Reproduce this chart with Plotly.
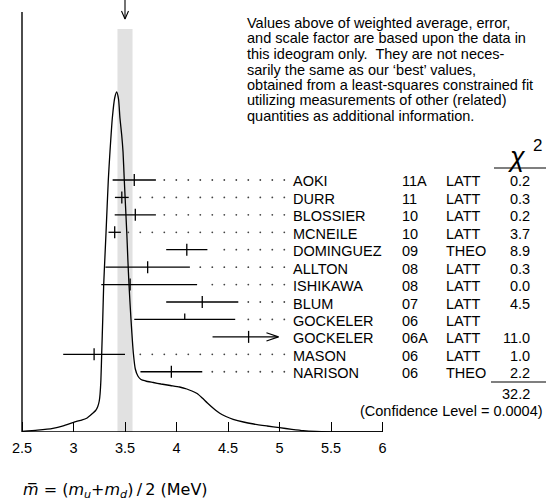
import numpy as np
import plotly.graph_objects as go

# ---------------- data ----------------
authors = ["AOKI", "DURR", "BLOSSIER", "MCNEILE", "DOMINGUEZ", "ALLTON",
           "ISHIKAWA", "BLUM", "GOCKELER", "GOCKELER", "MASON", "NARISON"]
years = ["11A", "11", "10", "10", "09", "08", "08", "07", "06", "06A", "06", "06"]
methods = ["LATT", "LATT", "LATT", "LATT", "THEO", "LATT",
           "LATT", "LATT", "LATT", "LATT", "LATT", "THEO"]
values = [3.59, 3.469, 3.60, 3.40, 4.10, 3.72, 3.55, 4.25, 4.08, 4.70, 3.20, 3.95]
err_lo = [0.21, 0.067, 0.20, 0.06, 0.20, 0.41, 0.28, 0.35, 0.49, 0.35, 0.30, 0.30]
err_hi = [0.21, 0.067, 0.20, 0.06, 0.20, 0.41, 0.65, 0.35, 0.49, 0.29, 0.30, 0.30]
arrow_right = [False, False, False, False, False, False,
               False, False, False, True, False, False]
chi2 = ["0.2", "0.3", "0.2", "3.7", "8.9", "0.3", "0.0", "4.5", "", "11.0", "1.0", "2.2"]
chi2_total = "32.2"
conf_level = "0.0004"
avg_value = 3.50
avg_err = 0.073

# ideogram curve (height in pixel-like units)
ideo_x = [2.50, 2.65, 2.80, 2.90, 3.00, 3.07, 3.128, 3.186, 3.215, 3.235, 3.25, 3.258,
          3.266, 3.274, 3.284, 3.293, 3.305, 3.316, 3.338, 3.354, 3.377, 3.40, 3.419,
          3.437, 3.451, 3.468, 3.481, 3.493, 3.517, 3.528, 3.539, 3.558, 3.581, 3.600,
          3.625, 3.655, 3.70, 3.775, 3.85, 3.94, 4.03, 4.10, 4.15, 4.20, 4.25, 4.30,
          4.36, 4.42, 4.48, 4.55, 4.65, 4.75, 4.88, 5.00, 5.12, 5.23, 5.35, 5.49,
          5.70, 6.00]
ideo_y = [0.5, 1.8, 3.7, 6.2, 9.7, 11.7, 13.7, 18.7, 21.5, 25.3, 31, 38,
          52, 79, 113, 147, 175, 200, 252, 280, 314, 334, 340,
          333, 314, 297, 280, 252, 200, 172, 147, 113, 79, 63,
          56, 52.5, 51, 49.5, 48, 46.5, 45, 43, 41, 38.5, 34, 29,
          23.5, 18.7, 15.5, 12.7, 10, 8, 6, 4.3, 2.7, 1.4, 0.6, 0.2,
          0.05, 0.0]

x_ticks = [2.5, 3, 3.5, 4, 4.5, 5, 5.5, 6]
x_tick_labels = ["2.5", "3", "3.5", "4", "4.5", "5", "5.5", "6"]

note_lines = [
    "Values above of weighted average, error,",
    "and scale factor are based upon the data in",
    "this ideogram only.  They are not neces-",
    "sarily the same as our \u2018best\u2019 values,",
    "obtained from a least-squares constrained fit",
    "utilizing measurements of other (related)",
    "quantities as additional information.",
]

# ---------------- geometry (layout) ----------------
W, H = 547, 504
AX_Y = 432           # pixel row of the x axis
X0_PX = 22           # pixel column of x = 2.5
PX_PER_UNIT = 103.0  # pixels per MeV
XMIN = x_ticks[0] - X0_PX / PX_PER_UNIT
XMAX = XMIN + W / PX_PER_UNIT


def h(py):           # pixel row -> y data value
    return AX_Y - py


def xv(px):          # pixel column -> x data value
    return XMIN + px / PX_PER_UNIT


def xp(px):          # pixel column -> paper fraction
    return px / W


def yp(py):          # pixel row -> paper fraction (plot area = rows 0..AX_Y)
    return (AX_Y - py) / AX_Y


FONT = "Liberation Sans, Arial, Helvetica, sans-serif"
FS = 14.5
row_top_px = 180.0
row_step = 17.43
rows_h = [h(row_top_px + i * row_step) for i in range(len(authors))]

fig = go.Figure()

# shaded band for the weighted average
fig.add_shape(type="rect", x0=avg_value - avg_err, x1=avg_value + avg_err,
              y0=0, y1=h(29), fillcolor="#e1e1e1", line=dict(width=0),
              layer="below")

# axes lines
fig.add_shape(type="line", x0=x_ticks[0], x1=x_ticks[-1], y0=0, y1=0,
              line=dict(color="black", width=1.4))
fig.add_shape(type="line", x0=x_ticks[0], x1=x_ticks[0], y0=0, y1=h(12),
              line=dict(color="black", width=1.4))

# ideogram curve
fig.add_trace(go.Scatter(x=ideo_x, y=ideo_y, mode="lines",
                         line=dict(color="black", width=1.3, shape="spline",
                                   smoothing=0.6),
                         hoverinfo="skip"))

# arrow at top pointing to average
dx = 3.5 / PX_PER_UNIT
fig.add_trace(go.Scatter(
    x=[avg_value, avg_value, None, avg_value - dx, avg_value, avg_value + dx],
    y=[h(0), h(19), None, h(11), h(19), h(11)],
    mode="lines", line=dict(color="black", width=1.1), hoverinfo="skip"))

# error bars
bx, by, tx, ty = [], [], [], []
ax_, ay_ = [], []
for v, lo, hi, yy, used, arr in zip(values, err_lo, err_hi, rows_h, chi2, arrow_right):
    bx += [v - lo, v + hi, None]
    by += [yy, yy, None]
    if used:
        tx += [v, v, None]
        ty += [yy - 6, yy + 6, None]
    else:
        tx += [v, v, None]
        ty += [yy, yy + 6, None]
    if arr:
        e = v + hi
        ax_ += [e - 12 / PX_PER_UNIT, e, e - 12 / PX_PER_UNIT, None]
        ay_ += [yy + 4.2, yy, yy - 4.2, None]
fig.add_trace(go.Scatter(x=bx, y=by, mode="lines",
                         line=dict(color="black", width=1.3), hoverinfo="skip"))
fig.add_trace(go.Scatter(x=tx, y=ty, mode="lines",
                         line=dict(color="black", width=1.3), hoverinfo="skip"))
fig.add_trace(go.Scatter(x=ax_, y=ay_, mode="lines",
                         line=dict(color="black", width=1.1), hoverinfo="skip"))

# dotted leaders
grid_px = 8.3 + 12 * np.arange(0, 24)
dxs, dys = [], []
for v, hi, yy in zip(values, err_hi, rows_h):
    end_px = X0_PX + (v + hi - x_ticks[0]) * PX_PER_UNIT
    for gp in grid_px:
        if gp > end_px + 6.5 and gp <= 285:
            dxs.append(xv(gp))
            dys.append(yy)
fig.add_trace(go.Scatter(x=dxs, y=dys, mode="markers",
                         marker=dict(color="#444", size=1.8, line=dict(width=0)),
                         hoverinfo="skip"))

ann = []


def text(px, py, s, anchor="left", size=FS, font=FONT, yanchor="middle"):
    ann.append(dict(x=xp(px), xref="paper", y=yp(py), yref="paper", text=s,
                    showarrow=False, xanchor=anchor, yanchor=yanchor,
                    font=dict(family=font, size=size, color="black")))


# table text
for i, yy in enumerate(rows_h):
    py = AX_Y - yy + 1.5
    text(291, py, authors[i])
    text(400, py, years[i])
    text(444, py, methods[i])
    if chi2[i]:
        text(532, py, chi2[i], anchor="right")

# chi2 header
text(517, 157, "<i>\u03c7</i>", anchor="center", size=27)
text(537, 145, "2", anchor="center", size=17)
fig.add_shape(type="line", xref="paper", x0=xp(494), x1=xp(546), y0=h(168), y1=h(168),
              line=dict(color="black", width=1.2))
fig.add_shape(type="line", xref="paper", x0=xp(491), x1=xp(546), y0=h(382), y1=h(382),
              line=dict(color="black", width=1.2))
text(532, 393.5, chi2_total, anchor="right")
text(545, 411, "(Confidence Level = " + conf_level + ")", anchor="right")

# note text block
for i, line in enumerate(note_lines):
    text(245, 23 + 15.5 * i, line)

# x axis title
NB = "\u00a0"
title = ("<i>m\u0305</i>" + NB + "=" + NB + "(<i>m</i><sub><i>u</i></sub>+<i>m</i>"
         "<sub><i>d</i></sub>)\u2009/\u20092" + NB + "(MeV)")
text(21, 491, title, size=16, font="DejaVu Sans, sans-serif")

fig.update_layout(
    width=W, height=H,
    margin=dict(l=0, r=0, t=0, b=H - AX_Y, pad=0),
    paper_bgcolor="white", plot_bgcolor="rgba(0,0,0,0)",
    showlegend=False,
    annotations=ann,
    xaxis=dict(range=[XMIN, XMAX], showgrid=False, zeroline=False, showline=False,
               tickmode="array", tickvals=x_ticks, ticktext=x_tick_labels,
               ticks="inside", ticklen=10, tickwidth=1.2, tickcolor="black",
               ticklabelstandoff=5,
               tickfont=dict(family=FONT, size=FS, color="black"), fixedrange=True),
    yaxis=dict(range=[0, AX_Y], visible=False, fixedrange=True),
)

fig.write_html(
    "out.html",
    config={"displayModeBar": False},
    post_script="document.body.style.margin='0';document.body.style.overflow='hidden';",
)
